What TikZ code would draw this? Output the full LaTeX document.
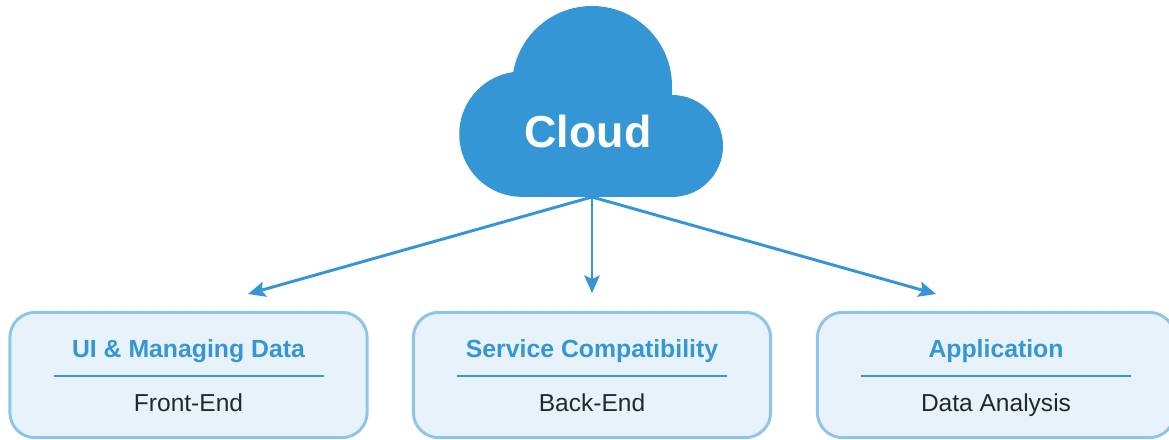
\documentclass[tikz,border=0pt]{standalone}
\usepackage{fontspec}
\setmainfont{Liberation Sans}
\usepackage{xcolor}
\usetikzlibrary{arrows.meta}
\definecolor{cloudblue}{HTML}{3596D5}
\definecolor{boxedge}{HTML}{8CC5E8}
\definecolor{boxfill}{HTML}{E8F2FA}
\definecolor{subtext}{HTML}{22282E}
\tikzset{
  infobox/.style={draw=boxedge, fill=boxfill, line width=2.2pt, rounded corners=19pt,
    minimum width=268pt, minimum height=94pt, inner sep=0pt},
  titletext/.style={text=cloudblue, font=\fontsize{18.6}{20}\selectfont\bfseries, inner sep=0pt, anchor=base},
  subtitle/.style={text=subtext, font=\fontsize{18.4}{20}\selectfont, inner sep=0pt, anchor=base},
  flow/.style={draw=cloudblue, line width=2.2pt, -{Stealth[length=13pt, width=11.5pt, inset=2.5pt]}}
}
\newcommand{\infopanel}[4]{
\node[infobox] at (#2, 64) (#1box) {};
\coordinate (#1l) at (#2-135, 62.5);
\coordinate (#1r) at (#2+135, 64.5);
\fill[cloudblue] (#1l) rectangle (#1r);
\node[titletext] at (#2, 82) (#1title) {#3};
\node[subtitle] at (#2, 28) (#1sub) {#4};
}

\begin{document}
\begin{tikzpicture}[x=0.75pt, y=0.75pt]
\useasboundingbox (0, 0) rectangle (1169, 439);
\fill[cloudblue] (522, 242) -- (672, 242) arc[start angle=-90, end angle=90, radius=51]
  -- (672, 353) arc[start angle=0, end angle=170, radius=80]
  arc[start angle=98, end angle=270, radius=62.7] -- cycle;
\node[text=white, font=\fontsize{33.6}{38}\selectfont\bfseries, inner sep=0pt, anchor=base] at (588, 291) (cloud) {Cloud};
\coordinate (cloudbase) at (592, 242);
\infopanel{front}{188.5}{UI \& Managing Data}{Front-End}
\infopanel{back}{592}{Service Compatibility}{Back-End}
\infopanel{app}{996}{Application}{Data Analysis}
\coordinate (fronttip) at (248, 145);
\coordinate (backtip) at (592, 146);
\coordinate (apptip) at (936, 145);
\draw[flow] (cloudbase) -- (fronttip);
\draw[flow] (cloudbase) -- (backtip);
\draw[flow] (cloudbase) -- (apptip);
\end{tikzpicture}
\end{document}
